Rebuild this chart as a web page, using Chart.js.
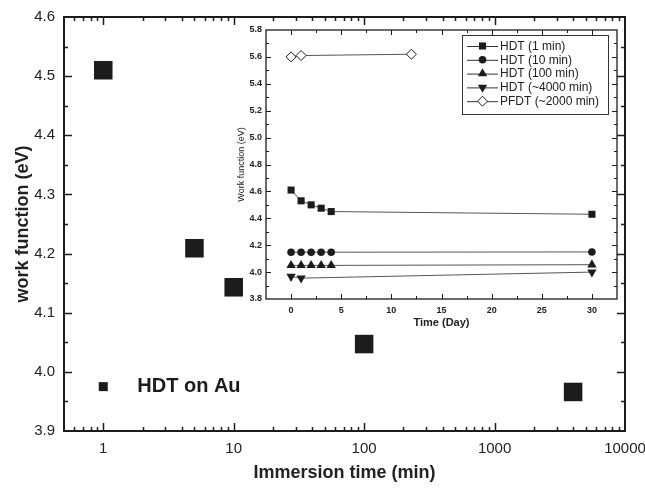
<!DOCTYPE html>
<html>
<head>
<meta charset="utf-8">
<script src="https://cdn.jsdelivr.net/npm/chart.js@4.4.0/dist/chart.umd.min.js"></script>
<style>
html, body { margin: 0; padding: 0; background: #fff; }
#wrap { position: relative; width: 645px; height: 489px; }
#mainChart { position: absolute; left: 0; top: 0; }
#insetChart { position: absolute; left: 228px; top: 22px; }
</style>
</head>
<body>
<div id="wrap">
  <canvas id="mainChart" width="645" height="489"></canvas>
  <canvas id="insetChart" width="395" height="310"></canvas>
</div>
<script>
// main plot: work function vs immersion time
const immersionTimes = [1, 5, 10, 100, 4000];
const workFunction = [4.51, 4.209, 4.143, 4.047, 3.966];
const mainXMajor = [1, 10, 100, 1000, 10000];
const mainYMajor = [3.9, 4.0, 4.1, 4.2, 4.3, 4.4, 4.5, 4.6];
const mainLabel = 'HDT on Au';

// inset: work function vs time (day)
const insetLabels = ['HDT (1 min)', 'HDT (10 min)', 'HDT (100 min)', 'HDT (~4000 min)', 'PFDT (~2000 min)'];
const hdt1Days = [0, 1, 2, 3, 4, 30];
const hdt1Wf = [4.61, 4.53, 4.50, 4.475, 4.45, 4.43];
const hdt10Days = [0, 1, 2, 3, 4, 30];
const hdt10Wf = [4.148, 4.148, 4.148, 4.148, 4.148, 4.15];
const hdt100Days = [0, 1, 2, 3, 4, 30];
const hdt100Wf = [4.05, 4.05, 4.05, 4.05, 4.05, 4.055];
const hdt4000Days = [0, 1, 30];
const hdt4000Wf = [3.967, 3.955, 4.0];
const pfdtDays = [0, 1, 12];
const pfdtWf = [5.60, 5.61, 5.62];
const insetXMajor = [0, 5, 10, 15, 20, 25, 30];
const insetYMajor = [3.8, 4.0, 4.2, 4.4, 4.6, 4.8, 5.0, 5.2, 5.4, 5.6, 5.8];

// minor tick positions
const mainXMinor = [];
[0.1, 1, 10, 100, 1000].forEach(d => {
    for (let k = 2; k <= 9; k++) {
        const v = d * k;
        if (v >= 0.5 && v <= 10000) mainXMinor.push(v);
    }
});
const mainYMinor = mainYMajor.slice(0, -1).map(v => v + 0.05);
const insetXMinor = [-2.5, 2.5, 7.5, 12.5, 17.5, 22.5, 27.5, 32.5];
const insetYMinor = insetYMajor.slice(0, -1).map(v => v + 0.1);

const ink = '#1c1c1c';
const lineGray = '#555';
const font = '"Liberation Sans", Arial, sans-serif';

function toPoints(xs, ys) {
    return xs.map((x, i) => ({ x: x, y: ys[i] }));
}

// draws the box and inward ticks on all four sides
const frameTicks = {
    id: 'frameTicks',
    beforeDatasetsDraw(chart, args, opts) {
        const { ctx, chartArea: a } = chart;
        ctx.save();
        ctx.fillStyle = '#fff';
        ctx.fillRect(a.left, a.top, a.right - a.left, a.bottom - a.top);
        ctx.restore();
    },
    afterDatasetsDraw(chart, args, opts) {
        const { ctx, chartArea: a, scales } = chart;
        const x = scales.x, y = scales.y;
        ctx.save();
        ctx.strokeStyle = ink;
        ctx.lineWidth = opts.lineWidth;
        ctx.strokeRect(a.left, a.top, a.right - a.left, a.bottom - a.top);
        ctx.lineWidth = opts.tickWidth;
        ctx.beginPath();
        const xTicks = (vals, len) => vals.forEach(v => {
            const px = Math.round(x.getPixelForValue(v)) + 0.5;
            if (px < a.left + 1 || px > a.right - 1) return;
            ctx.moveTo(px, a.bottom); ctx.lineTo(px, a.bottom - len);
            ctx.moveTo(px, a.top); ctx.lineTo(px, a.top + len);
        });
        const yTicks = (vals, len) => vals.forEach(v => {
            const py = Math.round(y.getPixelForValue(v)) + 0.5;
            if (py < a.top + 1 || py > a.bottom - 1) return;
            ctx.moveTo(a.left, py); ctx.lineTo(a.left + len, py);
            ctx.moveTo(a.right, py); ctx.lineTo(a.right - len, py);
        });
        xTicks(opts.xMajor, opts.major);
        xTicks(opts.xMinor, opts.minor);
        yTicks(opts.yMajor, opts.major);
        yTicks(opts.yMinor, opts.minor);
        ctx.stroke();
        ctx.restore();
    }
};

function fixBox(w, h) {
    return axis => {
        if (w !== null) axis.width = w;
        if (h !== null) axis.height = h;
        axis.paddingLeft = 0; axis.paddingRight = 0;
        axis.paddingTop = 0; axis.paddingBottom = 0;
    };
}

// label "■ HDT on Au" inside the main plot
const mainTag = {
    id: 'mainTag',
    afterDatasetsDraw(chart) {
        const { ctx, scales: { x, y } } = chart;
        const px = x.getPixelForValue(1);
        const py = y.getPixelForValue(3.975);
        ctx.save();
        ctx.fillStyle = ink;
        ctx.fillRect(px - 4.5, py - 4.5, 9, 9);
        ctx.font = 'bold 20px ' + font;
        ctx.textBaseline = 'middle';
        ctx.fillText(mainLabel, px + 34, py);
        ctx.restore();
    }
};

const mainChart = new Chart(document.getElementById('mainChart'), {
    type: 'scatter',
    data: {
        datasets: [{
            data: toPoints(immersionTimes, workFunction),
            pointStyle: 'rect',
            pointRadius: 13.1,
            pointHoverRadius: 13.1,
            backgroundColor: ink,
            borderColor: ink,
            borderWidth: 0
        }]
    },
    options: {
        responsive: false,
        animation: false,
        layout: { padding: { top: 17, right: 20, left: 0, bottom: 0 } },
        plugins: {
            legend: { display: false },
            tooltip: { enabled: false },
            frameTicks: {
                xMajor: mainXMajor, xMinor: mainXMinor,
                yMajor: mainYMajor, yMinor: mainYMinor,
                major: 8, minor: 4, lineWidth: 2, tickWidth: 1.5
            }
        },
        scales: {
            x: {
                type: 'logarithmic',
                min: 0.5,
                max: 10000,
                grid: { display: false, drawTicks: false },
                border: { display: false },
                afterBuildTicks: axis => { axis.ticks = mainXMajor.map(v => ({ value: v })); },
                afterFit: fixBox(null, 58),
                ticks: {
                    padding: 9,
                    maxRotation: 0,
                    autoSkip: false,
                    color: '#222',
                    font: { family: font, size: 15 },
                    callback: v => String(v)
                },
                title: {
                    display: true,
                    text: 'Immersion time (min)',
                    color: '#222',
                    padding: { top: 0, bottom: 5 },
                    font: { family: font, size: 18, weight: 'bold' }
                }
            },
            y: {
                min: 3.9,
                max: 4.6,
                grid: { display: false, drawTicks: false },
                border: { display: false },
                afterBuildTicks: axis => { axis.ticks = mainYMajor.map(v => ({ value: v })); },
                afterFit: fixBox(64, null),
                ticks: {
                    padding: 9,
                    color: '#222',
                    font: { family: font, size: 15 },
                    callback: v => Number(v).toFixed(1)
                },
                title: {
                    display: true,
                    text: 'work function (eV)',
                    color: '#222',
                    padding: { top: 12, bottom: 0 },
                    font: { family: font, size: 18, weight: 'bold' }
                }
            }
        }
    },
    plugins: [frameTicks, mainTag]
});

// marker shapes for the inset legend
function drawMarker(ctx, ds, cx, cy) {
    const r = ds.pointRadius;
    ctx.save();
    ctx.fillStyle = ds.pointBackgroundColor;
    ctx.strokeStyle = ds.pointBorderColor;
    ctx.lineWidth = ds.pointBorderWidth;
    ctx.translate(cx, cy);
    ctx.rotate((ds.pointRotation || 0) * Math.PI / 180);
    ctx.beginPath();
    if (ds.pointStyle === 'rect') {
        const s = r * Math.SQRT1_2;
        ctx.rect(-s, -s, 2 * s, 2 * s);
    } else if (ds.pointStyle === 'circle') {
        ctx.arc(0, 0, r, 0, Math.PI * 2);
    } else if (ds.pointStyle === 'triangle') {
        ctx.moveTo(0, -r);
        ctx.lineTo(r * Math.sin(Math.PI * 2 / 3), r * 0.5);
        ctx.lineTo(-r * Math.sin(Math.PI * 2 / 3), r * 0.5);
        ctx.closePath();
    } else if (ds.pointStyle === 'rectRot') {
        ctx.moveTo(0, -r); ctx.lineTo(r, 0); ctx.lineTo(0, r); ctx.lineTo(-r, 0);
        ctx.closePath();
    }
    ctx.fill();
    if (ds.pointBorderWidth) ctx.stroke();
    ctx.restore();
}

const insetLegend = {
    id: 'insetLegend',
    afterDraw(chart) {
        const { ctx, chartArea: a } = chart;
        const boxRight = a.right - 9;
        const boxLeft = boxRight - 146;
        const boxTop = a.top + 5;
        const rowH = 13.8;
        const boxH = rowH * insetLabels.length + 10;
        ctx.save();
        ctx.fillStyle = '#fff';
        ctx.fillRect(boxLeft, boxTop, boxRight - boxLeft, boxH);
        ctx.strokeStyle = '#333';
        ctx.lineWidth = 1;
        ctx.strokeRect(boxLeft + 0.5, boxTop + 0.5, boxRight - boxLeft, boxH);
        ctx.font = '12px ' + font;
        ctx.textBaseline = 'middle';
        chart.data.datasets.forEach((ds, i) => {
            const cy = boxTop + 11 + i * rowH;
            const lx = boxLeft + 5;
            ctx.strokeStyle = '#333';
            ctx.beginPath();
            ctx.moveTo(lx, cy + 0.5); ctx.lineTo(lx + 31, cy + 0.5);
            ctx.stroke();
            drawMarker(ctx, ds, lx + 15.5, cy);
            ctx.fillStyle = '#222';
            ctx.fillText(insetLabels[i], lx + 33, cy + 0.5);
        });
        ctx.restore();
    }
};

function insetSeries(label, xs, ys, style, r, rotation, fill) {
    return {
        label: label,
        data: toPoints(xs, ys),
        showLine: true,
        borderColor: lineGray,
        borderWidth: 1,
        pointStyle: style,
        pointRadius: r,
        pointHoverRadius: r,
        pointRotation: rotation,
        pointBackgroundColor: fill,
        pointBorderColor: ink,
        pointBorderWidth: fill === ink ? 0 : 1
    };
}

const insetChart = new Chart(document.getElementById('insetChart'), {
    type: 'scatter',
    data: {
        datasets: [
            insetSeries(insetLabels[0], hdt1Days, hdt1Wf, 'rect', 5, 0, ink),
            insetSeries(insetLabels[1], hdt10Days, hdt10Wf, 'circle', 3.8, 0, ink),
            insetSeries(insetLabels[2], hdt100Days, hdt100Wf, 'triangle', 5.4, 0, ink),
            insetSeries(insetLabels[3], hdt4000Days, hdt4000Wf, 'triangle', 5.4, 180, ink),
            insetSeries(insetLabels[4], pfdtDays, pfdtWf, 'rectRot', 5, 0, '#fff')
        ]
    },
    options: {
        responsive: false,
        animation: false,
        layout: { padding: { top: 8, right: 6, left: 0, bottom: 0 } },
        plugins: {
            legend: { display: false },
            tooltip: { enabled: false },
            frameTicks: {
                xMajor: insetXMajor, xMinor: insetXMinor,
                yMajor: insetYMajor, yMinor: insetYMinor,
                major: 5, minor: 3, lineWidth: 1.3, tickWidth: 1
            }
        },
        scales: {
            x: {
                type: 'linear',
                min: -2.5,
                max: 32.5,
                grid: { display: false, drawTicks: false },
                border: { display: false },
                afterBuildTicks: axis => { axis.ticks = insetXMajor.map(v => ({ value: v })); },
                afterFit: fixBox(null, 33),
                ticks: {
                    padding: 6,
                    maxRotation: 0,
                    autoSkip: false,
                    color: '#222',
                    font: { family: font, size: 9, weight: 'bold' }
                },
                title: {
                    display: true,
                    text: 'Time (Day)',
                    color: '#222',
                    padding: { top: 0, bottom: 2 },
                    font: { family: font, size: 11, weight: 'bold' }
                }
            },
            y: {
                min: 3.8,
                max: 5.8,
                grid: { display: false, drawTicks: false },
                border: { display: false },
                afterBuildTicks: axis => { axis.ticks = insetYMajor.map(v => ({ value: v })); },
                afterFit: fixBox(38, null),
                ticks: {
                    padding: 4,
                    color: '#222',
                    font: { family: font, size: 9, weight: 'bold' },
                    callback: v => Number(v).toFixed(1)
                },
                title: {
                    display: true,
                    text: 'Work function (eV)',
                    color: '#222',
                    padding: { top: 8, bottom: 0 },
                    font: { family: font, size: 9 }
                }
            }
        }
    },
    plugins: [frameTicks, insetLegend]
});
</script>
</body>
</html>
